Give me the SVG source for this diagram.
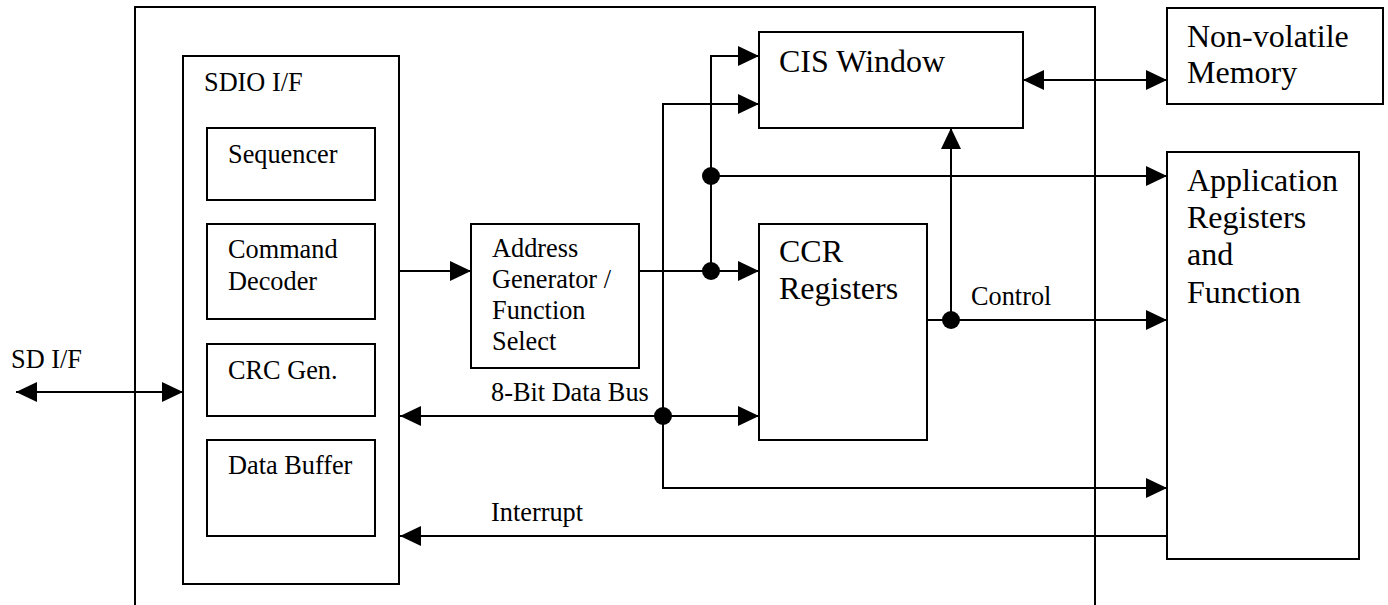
<svg xmlns="http://www.w3.org/2000/svg" width="1388" height="605" viewBox="0 0 1388 605">
  <style>
    .box { fill: #fff; stroke: #000; stroke-width: 2; }
    .wire { fill: none; stroke: #000; stroke-width: 2; }
    .sm { font-family: "Liberation Serif", "Times New Roman", serif; font-size: 26.3px; fill: #000; }
    .lg { font-family: "Liberation Serif", "Times New Roman", serif; font-size: 32px; fill: #000; }
    .dot { fill: #000; }
  </style>
  <defs>
    <marker id="arrow" markerUnits="userSpaceOnUse" markerWidth="21" markerHeight="20" refX="21" refY="10" orient="auto-start-reverse">
      <path d="M0,0 L21,10 L0,20 Z" fill="#000"/>
    </marker>
  </defs>
  <rect width="1388" height="605" fill="#fff"/>

  <!-- chip boundary (open at the bottom) -->
  <path id="chip-boundary" class="wire" d="M135,605 V7 H1095 V605"/>

  <g id="sdio-if">
    <rect class="box" x="183" y="56" width="216" height="528"/>
    <text class="sm" x="204" y="91">SDIO I/F</text>
  </g>
  <g id="sequencer">
    <rect class="box" x="207" y="128" width="168" height="72"/>
    <text class="sm" x="228" y="163">Sequencer</text>
  </g>
  <g id="command-decoder">
    <rect class="box" x="207" y="224" width="168" height="95"/>
    <text class="sm" x="228" y="258">Command</text>
    <text class="sm" x="228" y="290">Decoder</text>
  </g>
  <g id="crc-gen">
    <rect class="box" x="207" y="344" width="168" height="72"/>
    <text class="sm" x="228" y="379">CRC Gen.</text>
  </g>
  <g id="data-buffer">
    <rect class="box" x="207" y="440" width="168" height="96"/>
    <text class="sm" x="228" y="474">Data Buffer</text>
  </g>
  <g id="address-generator">
    <rect class="box" x="471" y="224" width="168" height="144"/>
    <text class="sm" x="492" y="257">Address</text>
    <text class="sm" x="492" y="288">Generator /</text>
    <text class="sm" x="492" y="319">Function</text>
    <text class="sm" x="492" y="350">Select</text>
  </g>
  <g id="cis-window">
    <rect class="box" x="759" y="32" width="264" height="96"/>
    <text class="lg" x="779" y="72">CIS Window</text>
  </g>
  <g id="ccr-registers">
    <rect class="box" x="759" y="224" width="168" height="216"/>
    <text class="lg" x="779" y="262">CCR</text>
    <text class="lg" x="779" y="299">Registers</text>
  </g>
  <g id="non-volatile-memory">
    <rect class="box" x="1167" y="8" width="216" height="96"/>
    <text class="lg" x="1187" y="47">Non-volatile</text>
    <text class="lg" x="1187" y="83">Memory</text>
  </g>
  <g id="application">
    <rect class="box" x="1167" y="152" width="192" height="407"/>
    <text class="lg" x="1187" y="191">Application</text>
    <text class="lg" x="1187" y="228">Registers</text>
    <text class="lg" x="1187" y="265">and</text>
    <text class="lg" x="1187" y="303">Function</text>
  </g>

  <g id="connectors">
    <!-- external SD interface -->
    <path class="wire" d="M16,392 H183" marker-start="url(#arrow)" marker-end="url(#arrow)"/>
    <text class="sm" x="11" y="368">SD I/F</text>
    <!-- command decoder to address generator -->
    <path class="wire" d="M399,271 H471" marker-end="url(#arrow)"/>
    <!-- address / function select fan-out -->
    <path class="wire" d="M639,271 H759" marker-end="url(#arrow)"/>
    <path class="wire" d="M711,271 V56 H759" marker-end="url(#arrow)"/>
    <path class="wire" d="M711,176 H1167" marker-end="url(#arrow)"/>
    <!-- 8-bit data bus -->
    <path class="wire" d="M400,416 H759" marker-start="url(#arrow)" marker-end="url(#arrow)"/>
    <path class="wire" d="M663,416 V104 H759" marker-end="url(#arrow)"/>
    <path class="wire" d="M663,416 V488 H1167" marker-end="url(#arrow)"/>
    <text class="sm" x="491" y="401">8-Bit Data Bus</text>
    <!-- control -->
    <path class="wire" d="M927,320 H1167" marker-end="url(#arrow)"/>
    <path class="wire" d="M951,320 V128" marker-end="url(#arrow)"/>
    <text class="sm" x="971" y="305">Control</text>
    <!-- CIS window to non-volatile memory -->
    <path class="wire" d="M1023,80 H1167" marker-start="url(#arrow)" marker-end="url(#arrow)"/>
    <!-- interrupt -->
    <path class="wire" d="M1167,536 H400" marker-end="url(#arrow)"/>
    <text class="sm" x="491" y="521">Interrupt</text>
    <!-- junctions -->
    <circle class="dot" cx="711" cy="176" r="9"/>
    <circle class="dot" cx="711" cy="271" r="9"/>
    <circle class="dot" cx="663" cy="416" r="9"/>
    <circle class="dot" cx="951" cy="320" r="9"/>
  </g>
</svg>
